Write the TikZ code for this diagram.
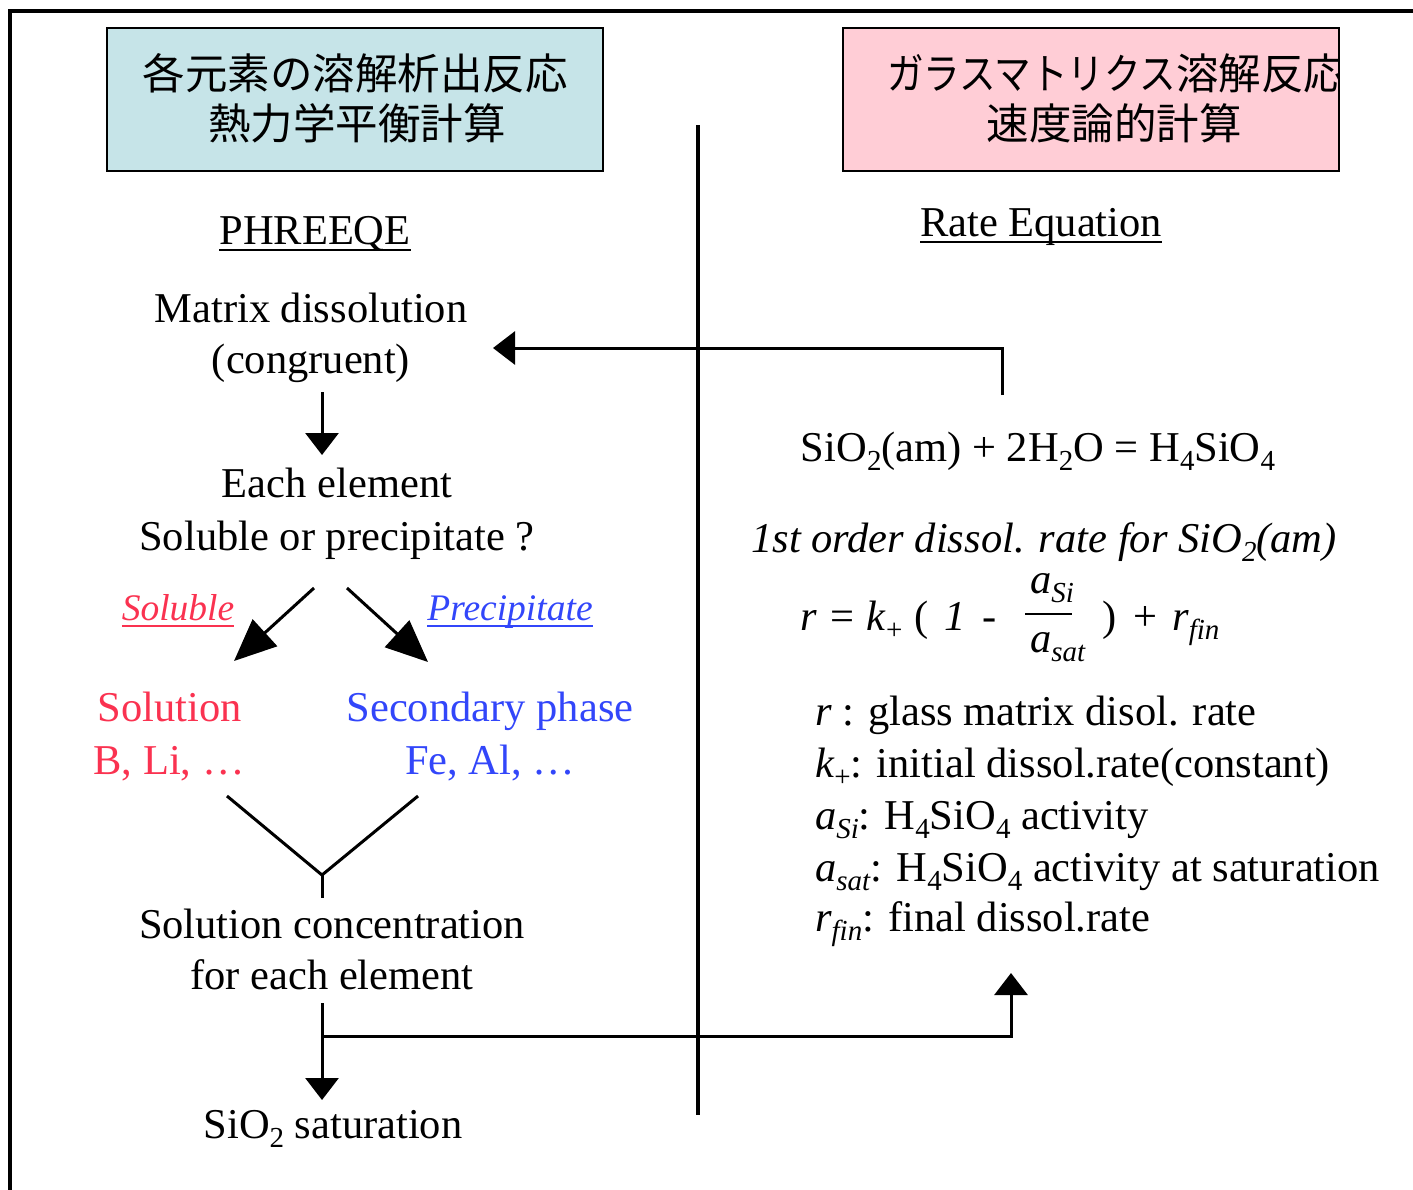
\documentclass[tikz,border=0pt]{standalone}
\usepackage{fontspec}
\setmainfont{Liberation Serif}
\newfontfamily\jp{Noto Sans CJK JP}
\usetikzlibrary{arrows.meta}
\definecolor{boxcyan}{RGB}{198,228,232}
\definecolor{boxpink}{RGB}{255,205,214}
\definecolor{redtxt}{RGB}{250,50,80}
\definecolor{bluetxt}{RGB}{50,70,250}
\newcommand\dn[1]{\raisebox{-0.22em}{\fontsize{29}{30}\selectfont #1}}
\newcommand\kana[1]{\scalebox{0.86}[1]{#1}}
\begin{document}
\begin{tikzpicture}[x=1pt,y=-1pt,
  every node/.style={inner sep=0pt,outer sep=0pt,font=\fontsize{42.5}{53}\selectfont},
  txt/.style={anchor=base},
  txtw/.style={anchor=base west},
  small/.style={font=\fontsize{37.5}{45}\selectfont\itshape},
  ln/.style={line width=3pt},
  ul/.style={line width=2pt},
  arr/.style={line width=3pt,-{Triangle[length=22pt,width=33pt]}},
  bigarr/.style={line width=3pt,-{Triangle[length=42pt,width=36pt]}},
  titlebox/.style={minimum width=496pt,minimum height=143pt}]
\useasboundingbox (0,0) rectangle (1413,1189);
% outer frame (only left and top visible)
\draw[line width=3.5pt] (10,1200) -- (10,11) -- (1420,11);
% divider
\draw[line width=3.5pt] (698,125) -- (698,1115);
% left title box
\node[titlebox,fill=boxcyan,draw,line width=2.5pt] (lbox) at (355,99.5) {};
\node[txt] (lt1) at (355,89) {\jp 各元素の溶解析出反応};
\node[txt] (lt2) at (357,139) {\jp 熱力学平衡計算};
% right title box
\node[titlebox,fill=boxpink] (rbox) at (1091,99.5) {};
\begin{scope}
\clip (rbox.north west) rectangle (rbox.south east);
\node[txtw] (rt1) at (887,89) {\jp\kana{ガラスマトリクス}溶解反応};
\end{scope}
\node[txt] (rt2) at (1114,139) {\jp 速度論的計算};
\draw[line width=2.5pt] (rbox.north west) rectangle (rbox.south east);
% headings
\node[txt] (phr) at (315,244) {PHREEQE};
\draw[ul] ([yshift=-6pt]phr.base west) -- ([yshift=-6pt]phr.base east);
\node[txt] (rate) at (1041,236) {Rate Equation};
\draw[ul] ([yshift=-6pt]rate.base west) -- ([yshift=-6pt]rate.base east);
% left flow
\node[txt] (mat1) at (311,322) {Matrix dissolution};
\node[txt] (mat2) at (311,373) {(congruent)};
\coordinate (a1s) at (322,392);
\coordinate (a1e) at (322,455);
\draw[arr] (a1s) -- (a1e);
\node[txt] (each1) at (337,497) {Each element};
\node[txt] (each2) at (337,550) {Soluble or precipitate ?};
\coordinate (dls) at (314,588);
\coordinate (dle) at (234,661);
\coordinate (drs) at (347,588);
\coordinate (dre) at (428,662);
\draw[bigarr] (dls) -- (dle);
\draw[bigarr] (drs) -- (dre);
\node[txt,small,text=redtxt] (sol) at (178,620) {Soluble};
\draw[ul,redtxt] ([yshift=-6pt]sol.base west) -- ([yshift=-6pt]sol.base east);
\node[txt,small,text=bluetxt] (pre) at (510,620) {Precipitate};
\draw[ul,bluetxt] ([yshift=-6pt]pre.base west) -- ([yshift=-6pt]pre.base east);
\node[txt,text=redtxt] (so1) at (170,721) {Solution};
\node[txt,text=redtxt] (so2) at (169,774) {B, Li, \dots};
\node[txt,text=bluetxt] (se1) at (490,721) {Secondary phase};
\node[txt,text=bluetxt] (se2) at (490,774) {Fe, Al, \dots};
\coordinate (vl) at (227,796);
\coordinate (vr) at (418,796);
\coordinate (vm) at (322,875);
\coordinate (vb) at (322,898);
\draw[ln] (vl) -- (vm) -- (vr);
\draw[ln] (vm) -- (vb);
\node[txt] (conc1) at (332,938) {Solution concentration};
\node[txt] (conc2) at (332,989) {for each element};
\coordinate (bs) at (322,1003);
\coordinate (be) at (322,1100);
\coordinate (bj) at (322,1036);
\coordinate (bt) at (1011,973);
\draw[arr] (bs) -- (be);
\draw[arr] (bj) -| (bt);
\node[txt] (sat) at (333,1138) {SiO\dn{2} saturation};
% feedback arrow
\coordinate (fs) at (1002,395);
\coordinate (fe) at (493,348);
\draw[arr] (fs) |- (fe);
% right side
\node[txt] (react) at (1038,461) {SiO\dn{2}(am) + 2H\dn{2}O = H\dn{4}SiO\dn{4}};
\node[txt] (first) at (1044,552) {\itshape 1st order dissol. rate for SiO\dn{2}(am)};
\node[txtw] (eqL) at (800,630) {\textit{r}\hspace{14pt}=\hspace{12pt}\textit{k}\dn{+}\hspace{12pt}(\hspace{16pt}\textit{1}\hspace{17pt}-};
\node[txtw] (num) at (1030,593) {\textit{a}\dn{\textit{Si}}};
\node[txtw] (den) at (1030,652) {\textit{a}\dn{\textit{sat}}};
\coordinate (fl) at (1025,614);
\coordinate (fr) at (1072,614);
\draw[ul] (fl) -- (fr);
\node[txtw] (eqR) at (1102,630) {)\hspace{17pt}+\hspace{15pt}\textit{r}\dn{\textit{fin}}};
\node[txtw] (l1) at (815,725) {\textit{r} : glass matrix disol. rate};
\node[txtw] (l2) at (815,777) {\textit{k}\dn{+}: initial dissol.rate(constant)};
\node[txtw] (l3) at (815,829) {\textit{a}\dn{\textit{Si}}: H\dn{4}SiO\dn{4} activity};
\node[txtw] (l4) at (815,881) {\textit{a}\dn{\textit{sat}}: H\dn{4}SiO\dn{4} activity at saturation};
\node[txtw] (l5) at (815,931) {\textit{r}\dn{\textit{fin}}: final dissol.rate};
\end{tikzpicture}
\end{document}
